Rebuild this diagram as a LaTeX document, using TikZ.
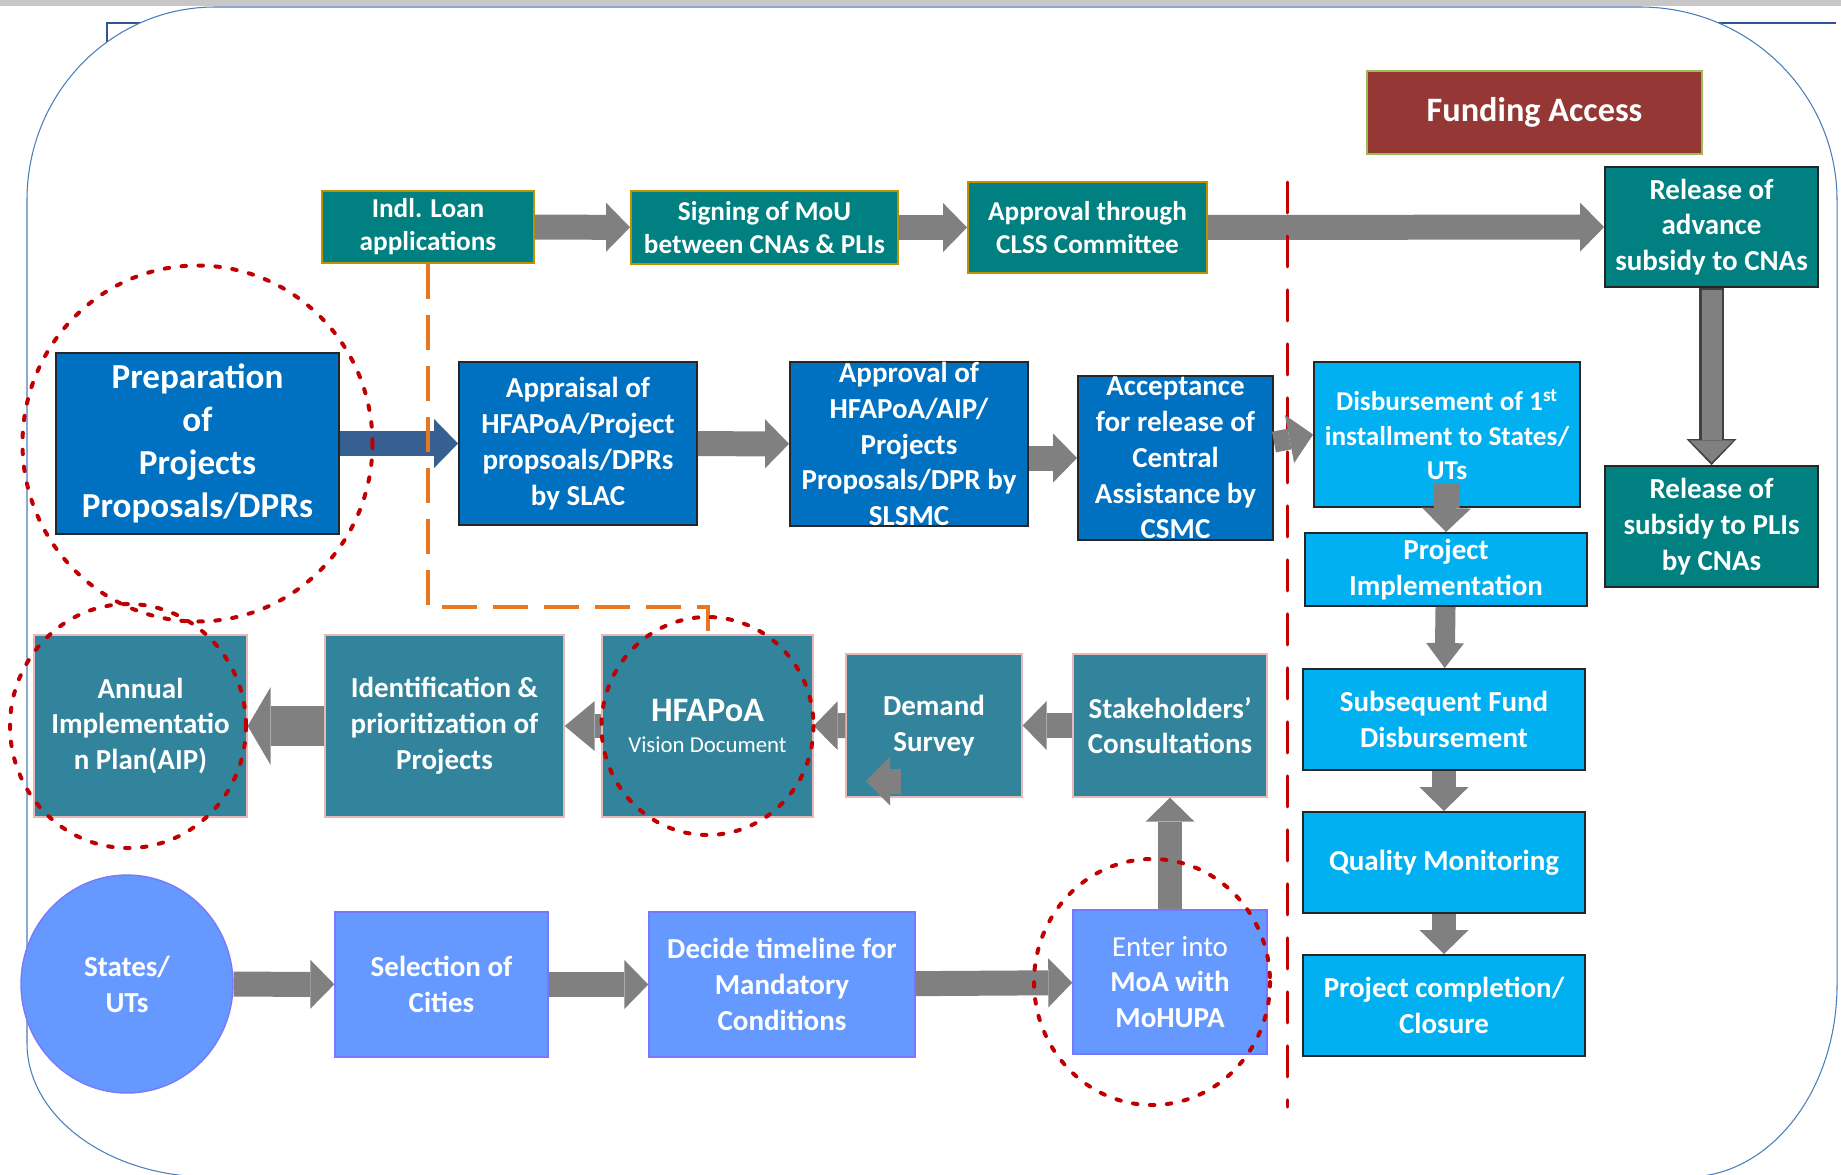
\documentclass[tikz,border=0pt]{standalone}
\usepackage{fontspec}
\setmainfont{Carlito}
\usetikzlibrary{arrows.meta,shapes.geometric}

\definecolor{clssteal}{RGB}{0,128,128}
\definecolor{goldline}{RGB}{191,144,0}
\definecolor{fundred}{RGB}{149,55,53}
\definecolor{oliveline}{RGB}{155,187,89}
\definecolor{slacblue}{RGB}{0,112,192}
\definecolor{fundcyan}{RGB}{0,176,240}
\definecolor{planteal}{RGB}{49,132,155}
\definecolor{pinkline}{RGB}{230,185,184}
\definecolor{cityblue}{RGB}{102,153,255}
\definecolor{cityline}{RGB}{120,120,255}
\definecolor{arrowgray}{RGB}{128,128,128}
\definecolor{steelarrow}{RGB}{55,96,146}
\definecolor{dividerred}{RGB}{192,0,0}
\definecolor{linkorange}{RGB}{232,119,34}
\definecolor{frameblue}{RGB}{74,126,187}
\definecolor{backblue}{RGB}{47,85,151}

\tikzset{
  boxbase/.style={rectangle, inner sep=0pt, align=center, text=white,
    font=\bfseries\fontsize{16.5}{20.4}\selectfont},
  tealbox/.style={boxbase, fill=clssteal, draw=goldline, line width=1.1pt,
    font=\bfseries\fontsize{15.5}{18.8}\selectfont},
  releasebox/.style={boxbase, fill=clssteal, draw=black!85, line width=1.1pt},
  fundbox/.style={boxbase, fill=fundred, draw=oliveline, line width=0.8pt,
    font=\bfseries\fontsize{19.5}{24}\selectfont},
  bluebox/.style={boxbase, fill=slacblue, draw=black!85, line width=1.1pt},
  cyanbox/.style={boxbase, fill=fundcyan, draw=black!85, line width=1.1pt},
  planbox/.style={boxbase, fill=planteal, draw=pinkline, line width=0.8pt},
  citybox/.style={boxbase, fill=cityblue, draw=cityline, line width=0.8pt},
  blockarrow/.style={draw=arrowgray, line width=0.5cm,
    -{Triangle[length=0.48cm, width=0.98cm, line width=0pt]}},
  reddots/.style={draw=dividerred, line width=0.08cm, line cap=round,
    dash pattern=on 0.09cm off 0.25cm}
}

\begin{document}
\begin{tikzpicture}[x=0.02cm, y=-0.02cm]
    \useasboundingbox (0,0) rectangle (1841,1174);
    \fill[white] (0,0) rectangle (1841,1174);
    \fill[black!22] (0,0) rectangle (1841,6);
    \draw[backblue, line width=1.2pt] (107,43) -- (107,23) -- (1836,23);
    \draw[draw=frameblue, line width=0.6pt, fill=white]
      (27,200) arc[start angle=180, end angle=270, x radius=188, y radius=193]
      -- (1640,7) arc[start angle=270, end angle=360, x radius=197, y radius=193]
      -- (1837,985) arc[start angle=0, end angle=90, x radius=150, y radius=192]
      -- (210,1177) arc[start angle=90, end angle=180, x radius=183, y radius=134]
      -- cycle;

    \node[fundbox, minimum width=6.70cm, minimum height=1.66cm] (fund) at (1534.5,112.5) {Funding Access};

    \node[tealbox, minimum width=4.24cm, minimum height=1.44cm] (indl) at (428,227) {Indl. Loan\\applications};
    \node[tealbox, minimum width=5.34cm, minimum height=1.46cm] (mou) at (764.5,227.5) {Signing of MoU\\between CNAs \& PLIs};
    \node[tealbox, minimum width=4.78cm, minimum height=1.82cm] (clss) at (1087.5,227.5) {Approval through\\CLSS Committee};
    \node[releasebox, minimum width=4.26cm, minimum height=2.40cm] (advance) at (1711.5,227) {Release of\\advance\\subsidy to CNAs};
    \node[releasebox, minimum width=4.26cm, minimum height=2.42cm] (plis) at (1711.5,526.5) {Release of\\subsidy to PLIs\\by CNAs};

    \node[bluebox, minimum width=5.66cm, minimum height=3.62cm, font=\bfseries\fontsize{20}{24.6}\selectfont] (prep) at (197.5,443.5) {Preparation\\of\\Projects\\Proposals/DPRs};
    \node[bluebox, minimum width=4.76cm, minimum height=3.26cm] (appraisal) at (578,443.5) {Appraisal of\\HFAPoA/Project\\propsoals/DPRs\\by SLAC};
    \node[bluebox, minimum width=4.76cm, minimum height=3.28cm] (approval) at (909,444) {Approval of\\HFAPoA/AIP/\\Projects\\Proposals/DPR by\\SLSMC};
    \node[bluebox, minimum width=3.90cm, minimum height=3.28cm] (accept) at (1175.5,458) {Acceptance\\for release of\\Central\\Assistance by\\CSMC};

    \node[cyanbox, minimum width=5.32cm, minimum height=2.90cm, font=\bfseries\fontsize{15.5}{19.6}\selectfont] (disb) at (1447,434.5) {Disbursement of 1\textsuperscript{st}\\installment to States/\\UTs};
    \node[cyanbox, minimum width=5.64cm, minimum height=1.46cm] (impl) at (1446,569.5) {Project\\Implementation};
    \node[cyanbox, minimum width=5.64cm, minimum height=2.02cm] (subseq) at (1444,719.5) {Subsequent Fund\\Disbursement};
    \node[cyanbox, minimum width=5.64cm, minimum height=2.02cm] (quality) at (1444,862.5) {Quality Monitoring};
    \node[cyanbox, minimum width=5.64cm, minimum height=2.02cm] (closure) at (1444,1005.5) {Project completion/\\Closure};

    \node[planbox, minimum width=4.26cm, minimum height=3.64cm] (aip) at (140.5,726) {Annual\\Implementatio\\n Plan(AIP)};
    \node[planbox, minimum width=4.78cm, minimum height=3.64cm] (ident) at (444.5,726) {Identification \&\\prioritization of\\Projects};
    \node[planbox, minimum width=4.22cm, minimum height=3.64cm, font=\bfseries\fontsize{13}{18}\selectfont] (hfapoa) at (707.5,726) {{\fontsize{19.5}{18}\selectfont HFAPoA}\\{\mdseries Vision Document}};
    \node[planbox, minimum width=3.52cm, minimum height=2.86cm] (demand) at (934,725.5) {Demand\\Survey};
    \node[planbox, minimum width=3.88cm, minimum height=2.86cm] (stake) at (1170,725.5) {Stakeholders’\\Consultations};

    \node[citybox, ellipse, minimum width=4.24cm, minimum height=4.36cm] (states) at (127,984) {States/\\UTs};
    \node[citybox, minimum width=4.26cm, minimum height=2.90cm] (cities) at (441.5,984.5) {Selection of\\Cities};
    \node[citybox, minimum width=5.32cm, minimum height=2.90cm] (decide) at (782,984.5) {Decide timeline for\\Mandatory\\Conditions};
    \node[citybox, minimum width=3.88cm, minimum height=2.88cm] (moa) at (1170,982) {{\mdseries Enter into}\\MoA with\\MoHUPA};

    \draw[blockarrow] (indl) -- (mou);
    \draw[blockarrow] (mou) -- (clss);
    \draw[blockarrow] (clss) -- (advance);
    \draw[blockarrow, draw=black!75, line width=0.5cm, -{Triangle[length=0.52cm, width=1.0cm, line width=0pt]}] (advance) -- (plis);
    \draw[blockarrow, line width=0.4cm, shorten >=1.6pt, -{Triangle[length=0.44cm, width=0.88cm, line width=0pt]}] ([yshift=-1pt]advance.south) -- (plis);

    \draw[blockarrow, draw=steelarrow] (prep) -- (appraisal);
    \draw[blockarrow] (appraisal) -- (approval);
    \draw[blockarrow] (approval.east |- accept.west) -- (accept.west);

    \draw[blockarrow, line width=0.52cm] ([yshift=0.5cm]disb.south) -- (impl.north);
    \draw[blockarrow, line width=0.4cm, -{Triangle[length=0.5cm, width=0.76cm, line width=0pt]}] (impl) -- (subseq);
    \draw[blockarrow, line width=0.48cm] (subseq) -- (quality);
    \draw[blockarrow, line width=0.48cm] (quality) -- (closure);

    \draw[blockarrow, line width=0.8cm, -{Triangle[length=0.46cm, width=1.56cm, line width=0pt]}] (ident) -- (aip);
    \draw[blockarrow, line width=0.48cm, -{Triangle[length=0.6cm, width=1cm, line width=0pt]}] (hfapoa) -- (ident);
    \draw[blockarrow] (demand) -- (hfapoa);
    \draw[blockarrow] (stake) -- (demand);
    \coordinate (backtail) at (901,781);
    \coordinate (backtip) at (866,781);
    \draw[blockarrow] (backtail) -- (backtip);

    \draw[blockarrow] (states) -- (cities);
    \draw[blockarrow] (cities) -- (decide);
    \draw[blockarrow] (decide) -- (moa);
    \draw[blockarrow, line width=0.48cm] (moa) -- (stake);

    \draw[dividerred, line width=0.06cm, line cap=round, dash pattern=on 0.62cm off 0.46cm] (1287,182) -- (1287,1107);
    \draw[blockarrow, line width=0.42cm] ([yshift=0.32cm]accept.east) -- (disb.west);

    \draw[linkorange, line width=0.08cm, dash pattern=on 0.7cm off 0.32cm] (indl.south) |- ([yshift=0.54cm]hfapoa.north) -- (hfapoa.north);

    \draw[reddots] (prep.center) ellipse [x radius=175, y radius=178];
    \draw[reddots] ([xshift=-0.25cm]aip.center) ellipse [x radius=118, y radius=122];
    \draw[reddots] (hfapoa.center) ellipse [x radius=106, y radius=109];
    \draw[reddots] ([xshift=-0.36cm]moa.center) ellipse [x radius=118, y radius=123];
\end{tikzpicture}
\end{document}
